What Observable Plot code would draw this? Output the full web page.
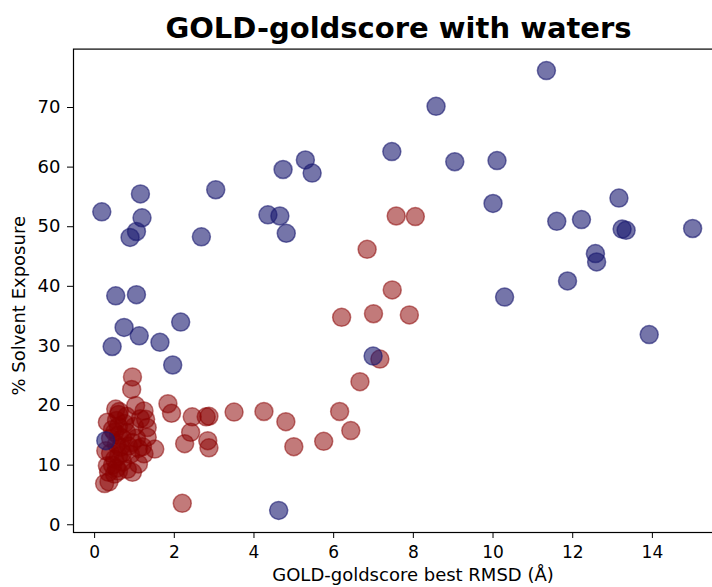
<!DOCTYPE html>
<html>
<head>
<meta charset="utf-8">
<script src="https://cdn.jsdelivr.net/npm/d3@7"></script>
<script src="https://cdn.jsdelivr.net/npm/@observablehq/plot@0.6"></script>
<style>
  html, body { margin: 0; padding: 0; background: #fff; overflow: hidden; width: 712px; height: 587px; }
  #title { position: absolute; left: 0; top: 12px; width: 797px; text-align: center;
           font-family: "DejaVu Sans", sans-serif; font-weight: bold; font-size: 29px; line-height: 32px; color: #000; }
  #chart { position: absolute; left: 0; top: 44px; }
  #chart svg { max-width: none !important; }
</style>
</head>
<body>
<div id="title">GOLD-goldscore with waters</div>
<div id="chart"></div>
<script>
// Blue series (upper group)
const blueX = [0.18, 1.15, 1.19, 1.05, 0.89, 3.04, 2.68, 0.53, 1.05, 0.74, 1.12, 0.44, 1.64, 2.16, 1.96, 0.28, 4.62, 6.99,
               8.57, 7.46, 9.04, 4.73, 5.29, 5.46, 4.35, 4.65, 4.81,
               11.34, 10.10, 10.00, 11.60, 12.22, 13.16, 13.24, 13.34, 15.01, 12.57, 12.60, 11.87, 10.29, 13.92];
const blueY = [52.5, 55.5, 51.5, 49.2, 48.2, 56.2, 48.3, 38.4, 38.6, 33.1, 31.7, 29.9, 30.6, 34.0, 26.8, 14.1, 2.4, 28.3,
               70.2, 62.6, 60.9, 59.6, 61.2, 59.0, 52.0, 51.8, 48.9,
               76.2, 61.1, 53.9, 50.9, 51.2, 54.8, 49.6, 49.4, 49.7, 45.5, 44.1, 40.9, 38.2, 31.9];

// Red series (lower group)
const redX = [0.95, 0.93, 1.03, 1.84, 1.93, 1.24, 1.28, 1.32, 1.32, 1.51, 1.24, 1.20,
              2.20, 2.45, 2.87, 2.80, 3.50, 4.25, 4.80, 5.00, 5.75, 6.15, 6.43, 6.66, 7.16, 6.20, 7.00, 7.90, 7.47, 6.84, 7.57, 8.05,
              2.41, 2.26, 2.84, 2.87,
              0.25, 0.36, 0.32, 0.28, 0.32, 0.53, 0.82, 0.95, 0.60, 0.55, 0.60, 0.50, 0.45, 0.60, 0.70, 0.55, 0.65, 0.40, 0.50, 0.60,
              0.70, 0.45, 0.55, 0.35, 0.75, 0.80, 0.85, 0.90, 0.70, 1.00, 1.05, 1.10, 0.95, 0.62, 0.40, 0.50, 0.80, 1.15, 1.10, 0.60];
const redY = [24.8, 22.7, 20.0, 20.3, 18.7, 19.1, 17.7, 16.3, 14.7, 12.7, 11.9, 13.1,
              3.6, 18.1, 18.2, 18.1, 18.9, 19.0, 17.3, 13.1, 14.0, 19.0, 15.8, 24.0, 27.8, 34.8, 35.4, 35.2, 39.4, 46.2, 51.8, 51.7,
              15.5, 13.6, 14.1, 12.9,
              6.9, 7.2, 9.9, 12.4, 17.2, 19.4, 9.3, 8.8, 18.5, 17.5, 16.5, 15.5, 16.0, 15.0, 14.5, 13.5, 13.0, 12.0, 11.0, 11.5,
              12.0, 10.0, 9.5, 8.8, 17.0, 15.5, 13.2, 11.8, 10.5, 16.5, 14.5, 12.8, 13.8, 19.0, 14.5, 8.5, 18.2, 17.8, 10.2, 9.0];

const xTicks = [0, 2, 4, 6, 8, 10, 12, 14];
const yTicks = [0, 10, 20, 30, 40, 50, 60, 70];
const xLabel = "GOLD-goldscore best RMSD (Å)";
const yLabel = "% Solvent Exposure";

const blue = blueX.map((x, i) => ({x, y: blueY[i]}));
const red = redX.map((x, i) => ({x, y: redY[i]}));

const chart = Plot.plot({
  width: 724,
  height: 543,
  marginLeft: 73,
  marginRight: 0,
  marginTop: 4.6,
  marginBottom: 55,
  style: {fontFamily: "DejaVu Sans, sans-serif", color: "#000", background: "#fff", overflow: "visible"},
  x: {domain: [-0.53, 15.81]},
  y: {domain: [-1.3, 79.8]},
  marks: [
    Plot.dot(red, {x: "x", y: "y", r: 9, fill: "#8B0000", fillOpacity: 0.52, stroke: "#8B0000", strokeOpacity: 0.52, strokeWidth: 1.5}),
    Plot.dot(blue, {x: "x", y: "y", r: 9, fill: "#191970", fillOpacity: 0.6, stroke: "#191970", strokeOpacity: 0.6, strokeWidth: 1.5}),
    Plot.frame({stroke: "#000", strokeWidth: 1.2}),
    Plot.axisX({ticks: xTicks, tickSize: 6, tickPadding: 7, fontSize: 17, label: null, stroke: "#000", fill: "#000"}),
    Plot.axisY({ticks: yTicks, tickSize: 6, tickPadding: 7, fontSize: 18, label: null, stroke: "#000", fill: "#000"}),
    Plot.text([xLabel], {frameAnchor: "bottom", dy: 48, dx: 14, fontSize: 18, fill: "#000", textAnchor: "middle"}),
    Plot.text([yLabel], {frameAnchor: "left", dx: -54, dy: 15, rotate: -90, fontSize: 18, fill: "#000", textAnchor: "middle"})
  ]
});
document.getElementById("chart").appendChild(chart);
</script>
</body>
</html>
